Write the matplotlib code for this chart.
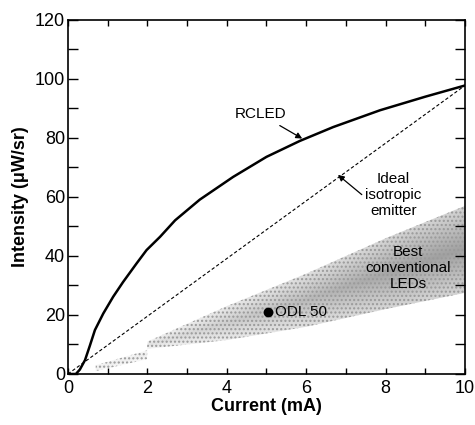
import numpy as np
import matplotlib
matplotlib.use("Agg")
import matplotlib.pyplot as plt
from matplotlib.patches import Polygon
from matplotlib.colors import LinearSegmentedColormap

plt.rcParams["font.family"] = ["Liberation Sans", "DejaVu Sans"]

# RCLED measured curve
rcled_x = [0, 0.2, 0.3, 0.43, 0.55, 0.68, 0.89, 1.14, 1.39, 1.73, 1.98, 2.32,
           2.70, 3.32, 4.16, 5.0, 5.84, 6.68, 7.86, 9.0, 10.0]
rcled_y = [0, 0, 1.5, 4.7, 9.5, 14.9, 20.5, 26.2, 31.2, 37.5, 42.0, 46.5,
           52.1, 59.1, 66.8, 73.6, 79.0, 83.7, 89.4, 94.0, 97.8]

# ideal isotropic emitter (straight line)
ideal_x = [0, 10]
ideal_y = [0, 97.8]

# band of best conventional LEDs (faint tail below 2 mA)
band_x     = [0.7, 1.99, 2.0, 4, 6, 8, 10]
band_upper = [3.0, 8.0, 11, 23, 34, 46, 57]
band_lower = [1.0, 5.0, 8.5, 11.5, 16, 22, 27.5]

odl_x, odl_y = 5.03, 21.0

fig = plt.figure(figsize=(4.75, 4.25), dpi=100)
ax = fig.add_axes([0.143, 0.12, 0.836, 0.833])

# ── shaded band ───────────────────────────────────────────────────────
cmap = LinearSegmentedColormap.from_list("g", ["#ffffff", "#6e6e6e"])
gx = np.linspace(0, 10, 400)
gy = np.linspace(0, 60, 240)
GX, GY = np.meshgrid(gx, gy)
mid = np.interp(GX, band_x, [(u + l) / 2 for u, l in zip(band_upper, band_lower)])
half = np.interp(GX, band_x, [(u - l) / 2 for u, l in zip(band_upper, band_lower)])
across = 1 - 0.55 * np.clip(np.abs(GY - mid) / half, 0, 1)
along = np.where(GX < 2, 0.12, 0.2 + 0.45 * np.clip((GX - 2) / 6.5, 0, 1))
shade = along * across

verts = list(zip(band_x, band_upper)) + list(zip(band_x[::-1], band_lower[::-1]))
poly = Polygon(verts, closed=True, facecolor="none", edgecolor="none")
ax.add_patch(poly)
im = ax.imshow(shade, extent=[0, 10, 0, 60], origin="lower", cmap=cmap,
               vmin=0, vmax=1, aspect="auto", interpolation="bilinear", zorder=1)
im.set_clip_path(poly)
ax.add_patch(Polygon(verts, closed=True, facecolor="none", edgecolor="#9a9a9a",
                     hatch="....", linewidth=0, zorder=1.5))
plt.rcParams["hatch.linewidth"] = 0.5

# ── curves ────────────────────────────────────────────────────────────
ax.plot(rcled_x, rcled_y, color="black", linewidth=1.8, zorder=3)
ax.plot(ideal_x, ideal_y, color="black", linewidth=0.8, linestyle=(0, (3, 2)), zorder=3)
ax.plot([odl_x], [odl_y], "o", color="black", markersize=6, zorder=4)

# ── annotations ───────────────────────────────────────────────────────
ax.annotate("RCLED", xy=(5.9, 79.8), xytext=(4.85, 88), fontsize=11,
            ha="center", va="center",
            arrowprops=dict(arrowstyle="-|>", color="black", lw=0.9,
                            mutation_scale=9, shrinkA=2, shrinkB=0))
ax.annotate("", xy=(6.8, 67.5), xytext=(7.4, 60.8),
            arrowprops=dict(arrowstyle="-|>", color="black", lw=0.9,
                            mutation_scale=9, shrinkA=0, shrinkB=0))
ax.text(8.2, 60.6, "Ideal\nisotropic\nemitter", fontsize=11, ha="center",
        va="center", linespacing=1.2)
ax.text(8.56, 36, "Best\nconventional\nLEDs", fontsize=11, ha="center",
        va="center", linespacing=1.2)
ax.text(5.22, 21, "ODL 50", fontsize=11, ha="left", va="center")

# ── axes ──────────────────────────────────────────────────────────────
ax.set_xlim(0, 10)
ax.set_ylim(0, 120)
ax.set_xticks(range(0, 11, 2))
ax.set_xticks(range(0, 11), minor=True)
ax.set_yticks(range(0, 121, 20))
ax.set_yticks(range(0, 121, 10), minor=True)
ax.tick_params(axis="both", which="both", direction="in", top=True, right=True,
               labelsize=13, width=1)
ax.tick_params(axis="x", which="both", length=4, pad=4)
ax.tick_params(axis="y", which="both", length=7, pad=2)
for s in ax.spines.values():
    s.set_linewidth(1.2)

ax.set_xlabel("Current (mA)", fontsize=13, fontweight="bold", labelpad=1)
ax.set_ylabel("Intensity (\u03bcW/sr)", fontsize=13, fontweight="bold", labelpad=4)

fig.savefig("out.png", dpi=100)
